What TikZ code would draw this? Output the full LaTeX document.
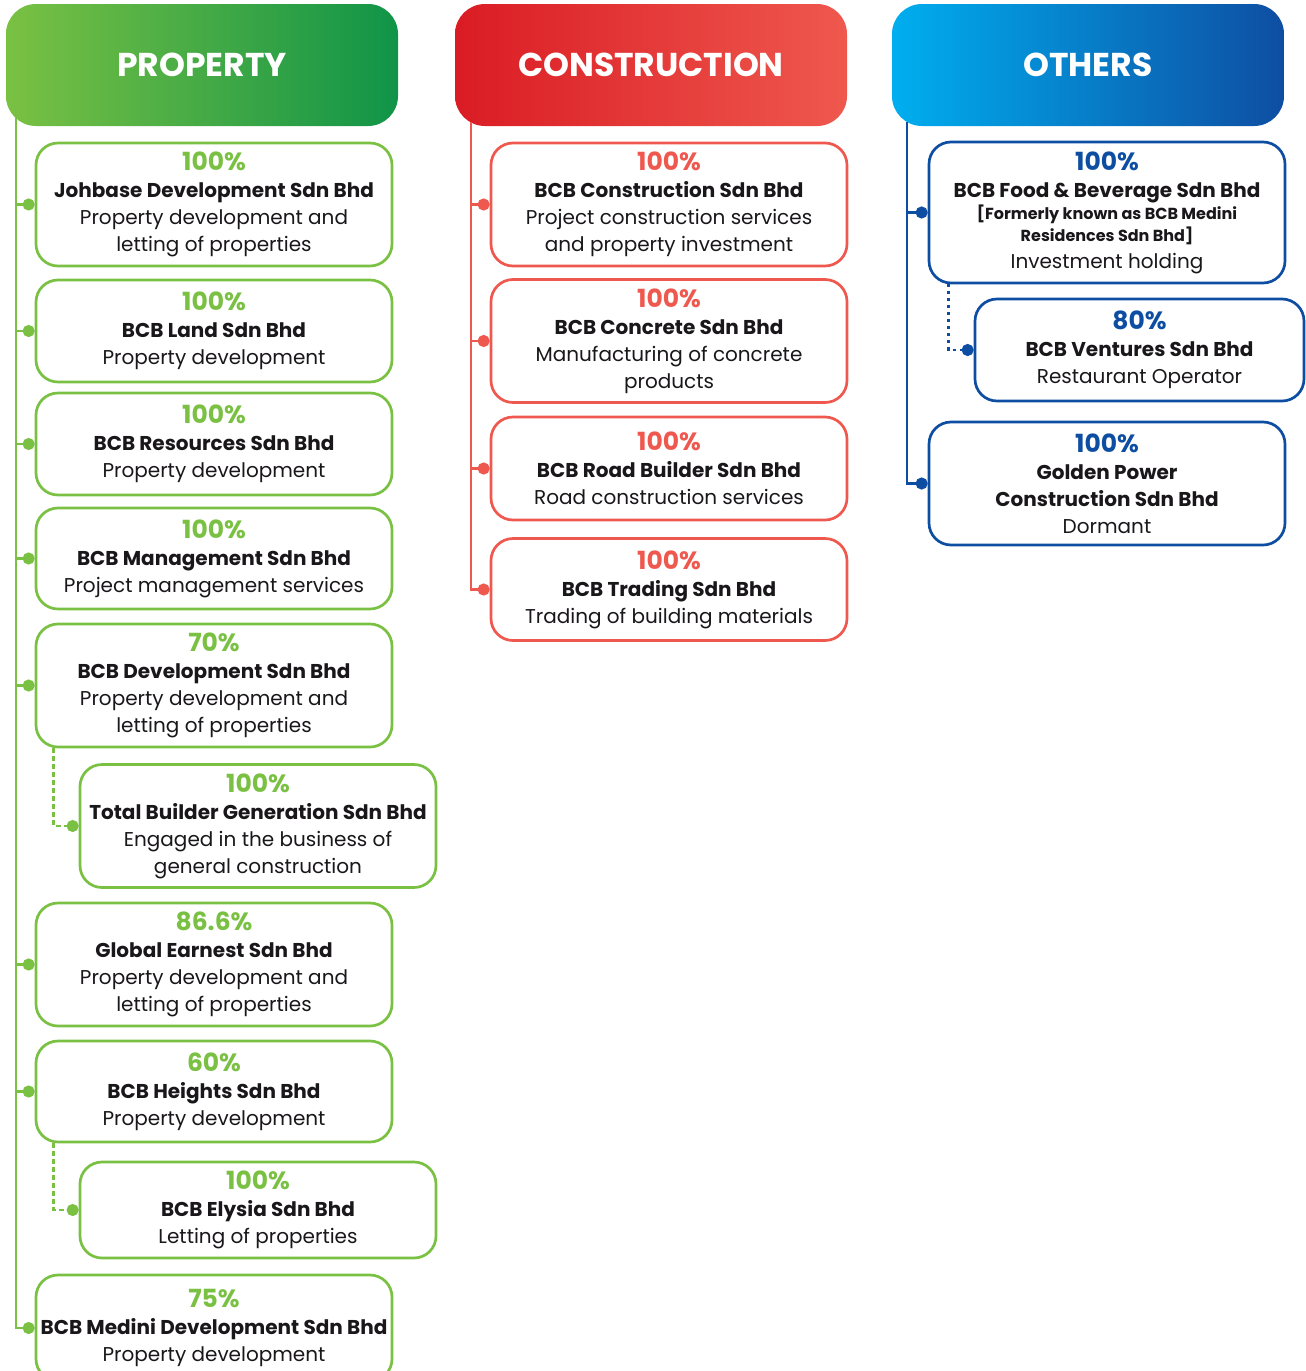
\documentclass[tikz,border=0pt]{standalone}
\usepackage{fontspec}
\setmainfont{Poppins}
\usetikzlibrary{arrows.meta}

\definecolor{propgreen}{RGB}{122,193,67}
\definecolor{propdark}{RGB}{16,148,72}
\definecolor{consred}{RGB}{239,88,78}
\definecolor{consdark}{RGB}{218,28,36}
\definecolor{othblue}{RGB}{14,78,162}
\definecolor{othlight}{RGB}{0,174,239}
\definecolor{ink}{RGB}{26,23,27}

\newcommand{\pct}[2]{{\color{#1}\fontsize{25}{29}\selectfont\bfseries #2}}
\newcommand{\nm}[1]{{\bfseries #1}}

\tikzset{
  headbox/.style={minimum width=392pt, minimum height=122pt, rounded corners=30pt,
    inner sep=0pt, text=white, font=\fontsize{33}{33}\selectfont\bfseries},
  firmbox/.style={draw=#1, line width=2.7pt, rounded corners=22pt, fill=white,
    minimum width=356pt, inner sep=0pt, align=center, text=ink,
    font=\fontsize{20}{27}\selectfont},
  branch/.style={draw=#1, line width=2.6pt, -{Circle[length=12pt]}},
  subbranch/.style={branch=#1, dash pattern=on 5pt off 3pt}
}

\begin{document}
\begin{tikzpicture}[x=1pt, y=-1pt]
  \def\Xp{214};
  \def\Xps{258};
  \def\Xc{669};
  \def\Xo{1107};
  \useasboundingbox (0,0) rectangle (1306,1371);

  % headers
  \node[headbox, left color=propgreen, right color=propdark] (prophead) at (202,65) {PROPERTY};
  \node[headbox, left color=consdark, right color=consred] (conshead) at (651,65) {CONSTRUCTION};
  \node[headbox, left color=othlight, right color=othblue] (othhead) at (1088,65) {OTHERS};

  % property
  \node[firmbox=propgreen, minimum height=123pt] (jdsb) at (\Xp,204.5)
    {\pct{propgreen}{100\%}\\ \nm{Johbase Development Sdn Bhd}\\ Property development and\\ letting of properties};
  \node[firmbox=propgreen, minimum height=102pt] (bland) at (\Xp,331)
    {\pct{propgreen}{100\%}\\ \nm{BCB Land Sdn Bhd}\\ Property development};
  \node[firmbox=propgreen, minimum height=102pt] (bres) at (\Xp,444)
    {\pct{propgreen}{100\%}\\ \nm{BCB Resources Sdn Bhd}\\ Property development};
  \node[firmbox=propgreen, minimum height=101pt] (bman) at (\Xp,558.5)
    {\pct{propgreen}{100\%}\\ \nm{BCB Management Sdn Bhd}\\ Project management services};
  \node[firmbox=propgreen, minimum height=123pt] (bdev) at (\Xp,685.5)
    {\pct{propgreen}{70\%}\\ \nm{BCB Development Sdn Bhd}\\ Property development and\\ letting of properties};
  \node[firmbox=propgreen, minimum height=123pt] (tbgs) at (\Xps,826)
    {\pct{propgreen}{100\%}\\ \nm{Total Builder Generation Sdn Bhd}\\ Engaged in the business of\\ general construction};
  \node[firmbox=propgreen, minimum height=123pt] (gesb) at (\Xp,964.5)
    {\pct{propgreen}{86.6\%}\\ \nm{Global Earnest Sdn Bhd}\\ Property development and\\ letting of properties};
  \node[firmbox=propgreen, minimum height=101pt] (bhgt) at (\Xp,1091.5)
    {\pct{propgreen}{60\%}\\ \nm{BCB Heights Sdn Bhd}\\ Property development};
  \node[firmbox=propgreen, minimum height=96pt] (bely) at (\Xps,1210)
    {\pct{propgreen}{100\%}\\ \nm{BCB Elysia Sdn Bhd}\\ Letting of properties};
  \node[firmbox=propgreen, minimum height=106pt] (bmed) at (\Xp,1328)
    {\pct{propgreen}{75\%}\\ \nm{BCB Medini Development Sdn Bhd}\\ Property development};

  \coordinate (ptop) at (16,118);
  \draw[branch=propgreen] (ptop) |- (bmed.west);
  \foreach \n in {jdsb,bland,bres,bman,bdev,gesb,bhgt}
    \draw[branch=propgreen] (ptop |- \n.west) -- (\n.west);
  \draw[subbranch=propgreen] ([xshift=19pt]bdev.south west) |- (tbgs.west);
  \draw[subbranch=propgreen] ([xshift=19pt]bhgt.south west) |- (bely.west);

  % construction
  \node[firmbox=consred, minimum height=123pt] (bcon) at (\Xc,204.5)
    {\pct{consred}{100\%}\\ \nm{BCB Construction Sdn Bhd}\\ Project construction services\\ and property investment};
  \node[firmbox=consred, minimum height=123pt] (bcrt) at (\Xc,341)
    {\pct{consred}{100\%}\\ \nm{BCB Concrete Sdn Bhd}\\ Manufacturing of concrete\\ products};
  \node[firmbox=consred, minimum height=103pt] (brbd) at (\Xc,468.5)
    {\pct{consred}{100\%}\\ \nm{BCB Road Builder Sdn Bhd}\\ Road construction services};
  \node[firmbox=consred, minimum height=102pt] (btrd) at (\Xc,589.5)
    {\pct{consred}{100\%}\\ \nm{BCB Trading Sdn Bhd}\\ Trading of building materials};

  \coordinate (ctop) at (471,122);
  \draw[branch=consred] (ctop) |- (btrd.west);
  \foreach \n in {bcon,bcrt,brbd}
    \draw[branch=consred] (ctop |- \n.west) -- (\n.west);

  % others
  \node[firmbox=othblue, minimum height=141pt] (bfnb) at (\Xo,212.5)
    {\pct{othblue}{100\%}\\ \nm{BCB Food \& Beverage Sdn Bhd}\\[-5pt]
     {\fontsize{16}{20}\selectfont\bfseries [Formerly known as BCB Medini}\\[-5pt]
     {\fontsize{16}{20}\selectfont\bfseries Residences Sdn Bhd]}\\ Investment holding};
  \node[firmbox=othblue, minimum width=329pt, minimum height=102pt] (bven) at (1139.5,350)
    {\pct{othblue}{80\%}\\ \nm{BCB Ventures Sdn Bhd}\\ Restaurant Operator};
  \node[firmbox=othblue, minimum height=123pt] (gpcs) at (\Xo,483.5)
    {\pct{othblue}{100\%}\\ \nm{Golden Power}\\ \nm{Construction Sdn Bhd}\\ Dormant};

  \coordinate (otop) at (907,122);
  \draw[branch=othblue] (otop) |- (gpcs.west);
  \draw[branch=othblue] (otop |- bfnb.west) -- (bfnb.west);
  \draw[branch=othblue, dash pattern=on 3pt off 4pt] ([xshift=21pt]bfnb.south west) |- (bven.west);
\end{tikzpicture}
\end{document}
